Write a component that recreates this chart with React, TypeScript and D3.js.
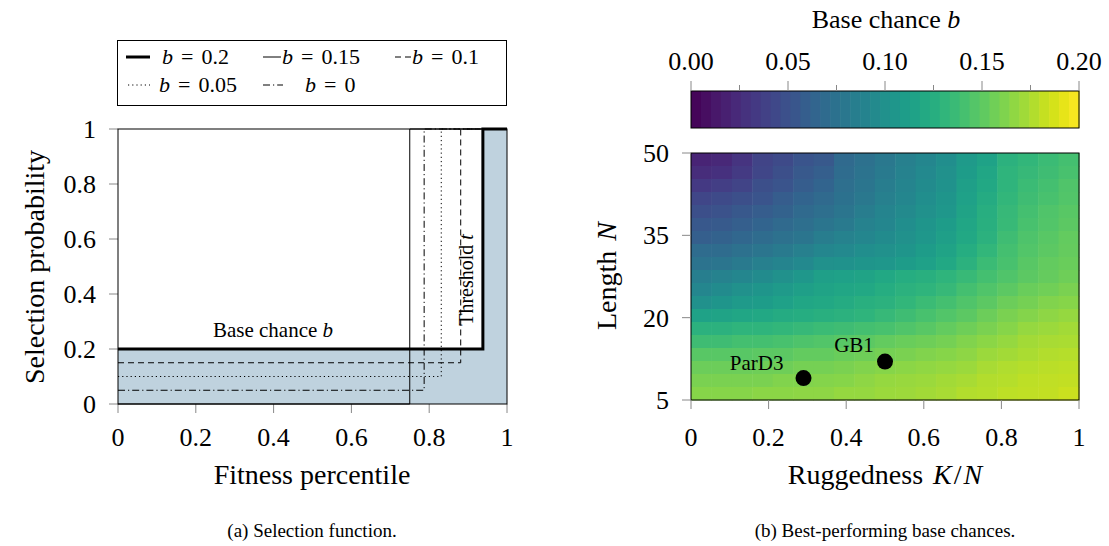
import React from "react";
import * as d3 from "d3";

// ---------- Data: selection function (panel a) ----------
const legendB = ["0.2", "0.15", "0.1", "0.05", "0"];
const curveLevels = [0.2, 0, 0.15, 0.1, 0.05];
const curveThresholds = [0.938, 0.75, 0.881, 0.831, 0.787];
const leftTicks = [0, 0.2, 0.4, 0.6, 0.8, 1];

// ---------- Data: heatmap (panel b) ----------
const kOverN = d3.range(19).map((i) => i / 18);
const lengthN = [50, 47.5, 45, 42.5, 40, 37.5, 35, 32.5, 30, 27.5, 25, 22.5, 20, 17.5, 15, 12.5, 10, 7.5, 5];
const row00 = [0.020,0.022,0.030,0.040,0.045,0.052,0.055,0.068,0.074,0.080,0.086,0.092,0.098,0.108,0.115,0.128,0.132,0.136,0.140];
const row01 = [0.025,0.028,0.034,0.042,0.048,0.055,0.060,0.070,0.076,0.082,0.088,0.094,0.100,0.110,0.118,0.130,0.134,0.138,0.142];
const row02 = [0.033,0.036,0.040,0.048,0.052,0.058,0.064,0.072,0.078,0.084,0.090,0.096,0.102,0.112,0.120,0.130,0.136,0.140,0.145];
const row03 = [0.042,0.045,0.048,0.052,0.058,0.064,0.068,0.075,0.080,0.086,0.092,0.098,0.104,0.114,0.122,0.132,0.138,0.142,0.146];
const row04 = [0.048,0.050,0.054,0.058,0.062,0.068,0.072,0.078,0.084,0.090,0.095,0.100,0.106,0.116,0.125,0.134,0.140,0.145,0.148];
const row05 = [0.054,0.056,0.060,0.064,0.068,0.072,0.078,0.082,0.088,0.092,0.098,0.104,0.110,0.118,0.126,0.135,0.142,0.146,0.150];
const row06 = [0.060,0.062,0.066,0.070,0.074,0.078,0.084,0.088,0.092,0.096,0.100,0.106,0.112,0.120,0.128,0.138,0.144,0.148,0.152];
const row07 = [0.070,0.070,0.074,0.078,0.082,0.086,0.092,0.094,0.098,0.100,0.104,0.110,0.116,0.124,0.132,0.140,0.146,0.150,0.153];
const row08 = [0.076,0.078,0.082,0.086,0.090,0.094,0.100,0.102,0.104,0.106,0.110,0.114,0.120,0.128,0.136,0.142,0.148,0.152,0.154];
const row09 = [0.085,0.088,0.092,0.096,0.100,0.106,0.112,0.114,0.116,0.120,0.124,0.126,0.130,0.135,0.140,0.145,0.150,0.153,0.156];
const row10 = [0.092,0.096,0.100,0.104,0.108,0.112,0.116,0.118,0.120,0.124,0.128,0.130,0.134,0.140,0.145,0.150,0.154,0.157,0.160];
const row11 = [0.100,0.104,0.108,0.110,0.114,0.118,0.120,0.122,0.126,0.128,0.132,0.136,0.140,0.145,0.150,0.155,0.158,0.162,0.164];
const row12 = [0.115,0.116,0.118,0.120,0.122,0.124,0.126,0.128,0.130,0.134,0.138,0.142,0.146,0.150,0.155,0.160,0.163,0.166,0.168];
const row13 = [0.128,0.128,0.130,0.130,0.132,0.134,0.136,0.138,0.140,0.142,0.145,0.148,0.152,0.156,0.160,0.164,0.168,0.170,0.172];
const row14 = [0.138,0.138,0.140,0.140,0.142,0.144,0.146,0.148,0.150,0.152,0.154,0.156,0.158,0.162,0.165,0.168,0.172,0.174,0.175];
const row15 = [0.148,0.148,0.148,0.150,0.150,0.152,0.152,0.154,0.156,0.158,0.160,0.162,0.164,0.166,0.170,0.172,0.175,0.177,0.178];
const row16 = [0.155,0.155,0.155,0.156,0.156,0.158,0.158,0.160,0.162,0.164,0.165,0.167,0.168,0.170,0.174,0.176,0.178,0.179,0.180];
const row17 = [0.160,0.160,0.160,0.160,0.162,0.162,0.163,0.164,0.166,0.168,0.169,0.170,0.172,0.174,0.177,0.178,0.180,0.181,0.182];
const row18 = [0.164,0.164,0.164,0.165,0.165,0.166,0.166,0.168,0.168,0.170,0.171,0.172,0.174,0.177,0.178,0.180,0.181,0.182,0.184];
const heatRows = [row00,row01,row02,row03,row04,row05,row06,row07,row08,row09,row10,row11,row12,row13,row14,row15,row16,row17,row18];

const proteinNames = ["ParD3", "GB1"];
const proteinK = [0.29, 0.5];
const proteinN = [9, 12];

const rightXTicks = [0, 0.2, 0.4, 0.6, 0.8, 1];
const rightYTicks = [5, 20, 35, 50];
const cbTicks = [0, 0.05, 0.1, 0.15, 0.2];
const cbMinor = [0.025, 0.075, 0.125, 0.175];

// ---------- Layout ----------
const W = 1109, H = 546;
const SERIF = "'Liberation Serif', 'Times New Roman', serif";
const TICK = "#888";
const TICKFS = 26;
const LABELFS = 28;

const xL = d3.scaleLinear().domain([0, 1]).range([118, 507]);
const yL = d3.scaleLinear().domain([0, 1]).range([404, 129]);

const xR = d3.scaleLinear().domain([0, 1]).range([691, 1079]);
const yR = d3.scaleLinear().domain([5, 50]).range([400, 153]);
const cb = d3.scaleLinear().domain([0, 0.2]).range([691, 1079]);
const color = (b: number) => d3.interpolateViridis(b / 0.2);

const dashes = [null, null, "6,4", "1.2,3", "7,3,1.2,3"];
const widths = [3, 1, 1, 1, 1];

function stepPath(level: number, thr: number) {
  const pts: [number, number][] = [
    [0, level],
    [thr, level],
    [thr, 1],
    [1, 1],
  ];
  return d3.line<[number, number]>().x((d) => xL(d[0])).y((d) => yL(d[1]))(pts) as string;
}

function B() {
  return <tspan fontStyle="italic">b</tspan>;
}

const fmt = (t: number) => (t === 0 || t === 1 ? String(t) : t.toFixed(1));

export default function App() {
  const nCols = kOverN.length;
  const nRows = lengthN.length;
  const cellW = (xR(1) - xR(0)) / nCols;
  const cellH = (yR(5) - yR(50)) / nRows;
  const nBands = 39;
  const bandW = (cb(0.2) - cb(0)) / nBands;

  const fillArea = d3
    .area<[number, number]>()
    .x((d) => xL(d[0]))
    .y0(yL(0))
    .y1((d) => yL(d[1]))([
      [0, curveLevels[0]],
      [curveThresholds[0], curveLevels[0]],
      [curveThresholds[0], 1],
      [1, 1],
    ]) as string;

  const legendPos = [
    { x: 126, y: 57, tx: 162 },
    { x: 263, y: 57, tx: 282 },
    { x: 395, y: 57, tx: 412 },
    { x: 128, y: 85, tx: 159 },
    { x: 263, y: 85, tx: 305 },
  ];
  const legendLen = [24, 18, 16, 22, 20];

  return (
    <svg
      width={W}
      height={H}
      style={{ position: "absolute", left: 0, top: 0, background: "#fff" }}
      fontFamily={SERIF}
    >
      {/* ---------------- Panel a ---------------- */}
      <path d={fillArea} fill="#bfd2de" />
      {leftTicks.map((t) => (
        <g key={"ly" + t}>
          <line x1={xL(0) - 9} x2={xL(0)} y1={yL(t)} y2={yL(t)} stroke={TICK} />
          <text x={96} y={yL(t)} dy="0.35em" textAnchor="end" fontSize={TICKFS}>
            {fmt(t)}
          </text>
        </g>
      ))}
      {leftTicks.map((t) => (
        <g key={"lx" + t}>
          <line x1={xL(t)} x2={xL(t)} y1={yL(0)} y2={yL(0) + 9} stroke={TICK} />
          <text x={xL(t)} y={446} textAnchor="middle" fontSize={TICKFS}>
            {fmt(t)}
          </text>
        </g>
      ))}
      {curveLevels.map((lv, i) => (
        <path
          key={"c" + i}
          d={stepPath(lv, curveThresholds[i])}
          fill="none"
          stroke="#000"
          strokeWidth={widths[i]}
          strokeDasharray={dashes[i] ?? undefined}
        />
      ))}
      <rect x={xL(0)} y={yL(1)} width={xL(1) - xL(0)} height={yL(0) - yL(1)} fill="none" stroke="#000" strokeWidth={1} />
      <text x={273} y={337} textAnchor="middle" fontSize={21}>
        Base chance <B />
      </text>
      <text transform={`translate(473,280) rotate(-90)`} textAnchor="middle" fontSize={20}>
        Threshold <tspan fontStyle="italic">t</tspan>
      </text>
      <text transform={`translate(44,267) rotate(-90)`} textAnchor="middle" fontSize={LABELFS}>
        Selection probability
      </text>
      <text x={312} y={484} textAnchor="middle" fontSize={LABELFS}>
        Fitness percentile
      </text>
      <text x={312} y={537} textAnchor="middle" fontSize={19}>
        (a) Selection function.
      </text>

      {/* legend */}
      <rect x={117.5} y={40.5} width={389} height={65} fill="#fff" stroke="#000" />
      {legendB.map((b, i) => (
        <g key={"lg" + i}>
          <line
            x1={legendPos[i].x}
            x2={legendPos[i].x + legendLen[i]}
            y1={legendPos[i].y}
            y2={legendPos[i].y}
            stroke="#000"
            strokeWidth={widths[i]}
            strokeDasharray={dashes[i] ?? undefined}
          />
          <text x={legendPos[i].tx} y={legendPos[i].y} dy="0.33em" fontSize={22}>
            <B />
            <tspan dx={8}>=</tspan>
            <tspan dx={8}>{b}</tspan>
          </text>
        </g>
      ))}

      {/* ---------------- Panel b ---------------- */}
      {d3.range(nBands).map((i) => (
        <rect
          key={"cb" + i}
          x={cb(0) + i * bandW}
          y={91}
          width={bandW + 0.6}
          height={37}
          fill={color(((i + 0.5) / nBands) * 0.2)}
        />
      ))}
      <rect x={cb(0)} y={91} width={cb(0.2) - cb(0)} height={37} fill="none" stroke="#000" />
      {cbTicks.map((t) => (
        <g key={"cbt" + t}>
          <line x1={cb(t)} x2={cb(t)} y1={91} y2={81} stroke={TICK} />
          <text x={cb(t)} y={70} textAnchor="middle" fontSize={TICKFS}>
            {t.toFixed(2)}
          </text>
        </g>
      ))}
      {cbMinor.map((t) => (
        <line key={"cbm" + t} x1={cb(t)} x2={cb(t)} y1={91} y2={85} stroke={TICK} />
      ))}
      <text x={886} y={28} textAnchor="middle" fontSize={26}>
        Base chance <B />
      </text>

      {heatRows.map((row, r) =>
        row.map((v, c) => (
          <rect
            key={`h${r}-${c}`}
            x={xR(0) + c * cellW}
            y={yR(50) + r * cellH}
            width={cellW + 0.5}
            height={cellH + 0.5}
            fill={color(v)}
          />
        ))
      )}
      <rect x={xR(0)} y={yR(50)} width={xR(1) - xR(0)} height={yR(5) - yR(50)} fill="none" stroke="#000" />
      {rightXTicks.map((t) => (
        <g key={"rx" + t}>
          <line x1={xR(t)} x2={xR(t)} y1={yR(5)} y2={yR(5) + 9} stroke={TICK} />
          <text x={xR(t)} y={446} textAnchor="middle" fontSize={TICKFS}>
            {fmt(t)}
          </text>
        </g>
      ))}
      {rightYTicks.map((t) => (
        <g key={"ry" + t}>
          <line x1={xR(0) - 9} x2={xR(0)} y1={yR(t)} y2={yR(t)} stroke={TICK} />
          <text x={669} y={yR(t)} dy="0.35em" textAnchor="end" fontSize={TICKFS}>
            {t}
          </text>
        </g>
      ))}
      {proteinNames.map((n, i) => (
        <g key={n}>
          <circle cx={xR(proteinK[i])} cy={yR(proteinN[i])} r={8} fill="#000" />
          <text
            x={xR(proteinK[i]) - (i === 0 ? 20 : 31)}
            y={yR(proteinN[i]) - (i === 0 ? 8 : 10)}
            textAnchor={i === 0 ? "end" : "middle"}
            fontSize={21}
          >
            {n}
          </text>
        </g>
      ))}
      <text transform={`translate(616,276) rotate(-90)`} textAnchor="middle" fontSize={LABELFS}>
        Length <tspan fontStyle="italic" dx={3}>N</tspan>
      </text>
      <text x={885} y={484} textAnchor="middle" fontSize={LABELFS}>
        Ruggedness <tspan fontStyle="italic" dx={3}>K</tspan>
        <tspan dx={2}>/</tspan>
        <tspan fontStyle="italic" dx={2}>N</tspan>
      </text>
      <text x={885} y={537} textAnchor="middle" fontSize={19}>
        (b) Best-performing base chances.
      </text>
    </svg>
  );
}
